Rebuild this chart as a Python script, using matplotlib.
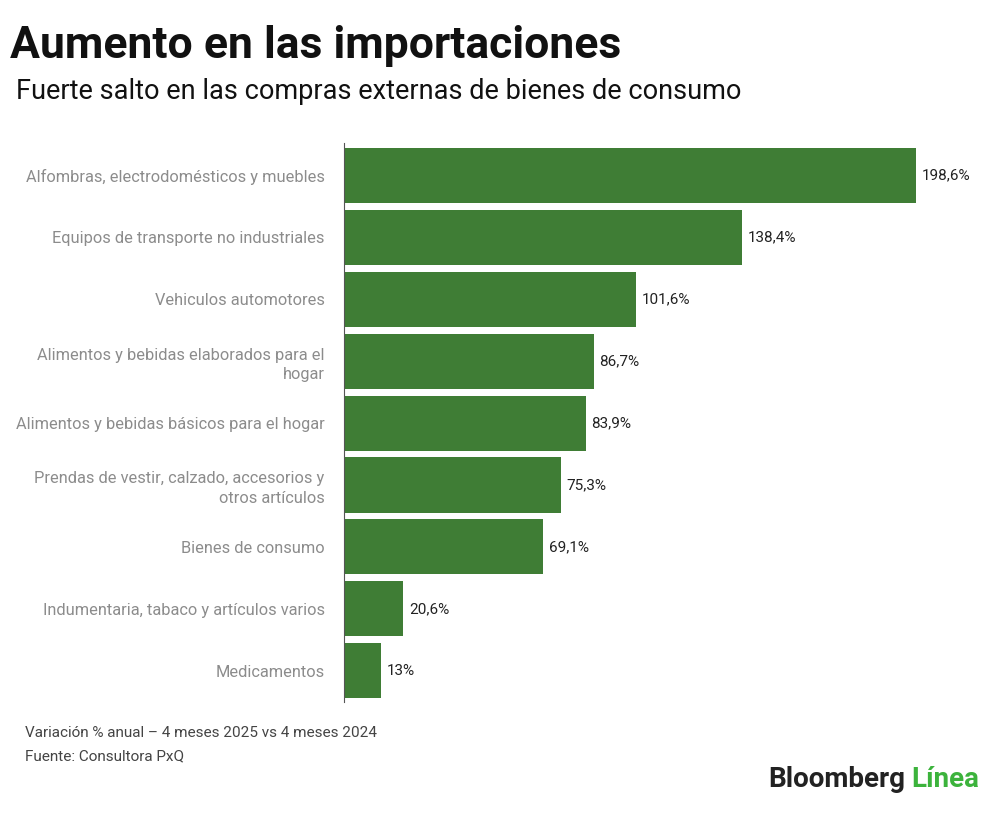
import matplotlib.pyplot as plt

# DATA
categorias = ['Alfombras, electrodomésticos y muebles',
              'Equipos de transporte no industriales',
              'Vehiculos automotores',
              'Alimentos y bebidas elaborados para el\nhogar',
              'Alimentos y bebidas básicos para el hogar',
              'Prendas de vestir, calzado, accesorios y\notros artículos',
              'Bienes de consumo',
              'Indumentaria, tabaco y artículos varios',
              'Medicamentos']
valores = [198.6, 138.4, 101.6, 86.7, 83.9, 75.3, 69.1, 20.6, 13]
etiquetas = ['198,6%', '138,4%', '101,6%', '86,7%', '83,9%', '75,3%', '69,1%', '20,6%', '13%']

plt.rcParams['font.family'] = ['Roboto', 'DejaVu Sans']

fig = plt.figure(figsize=(10, 8.14), dpi=100)
ax = fig.add_axes([0.344, 0.138, 0.616, 0.686])

y = range(len(categorias))
ax.barh(y, valores, height=0.89, color='#3f7d35')
for i, (v, t) in enumerate(zip(valores, etiquetas)):
    ax.text(v + 2, i, t, va='center', ha='left', fontsize=11, color='#222222')

ax.set_ylim(len(categorias) - 0.5, -0.52)
ax.set_xlim(0, 214)
ax.set_yticks(list(y))
ax.set_yticklabels(categorias, fontsize=11.8, color='#8c8c8c', linespacing=1.4)
ax.tick_params(axis='y', length=0, pad=14)
ax.set_xticks([])
for s in ['top', 'right', 'bottom']:
    ax.spines[s].set_visible(False)
ax.spines['left'].set_color('#555555')

fig.text(0.010, 0.944, 'Aumento en las importaciones', fontsize=32, fontweight='bold',
         color='#111111', va='center')
fig.text(0.016, 0.887, 'Fuerte salto en las compras externas de bienes de consumo',
         fontsize=19.5, color='#111111', va='center')
fig.text(0.025, 0.099, 'Variación % anual – 4 meses 2025 vs 4 meses 2024', fontsize=11,
         color='#444444', va='center')
fig.text(0.025, 0.071, 'Fuente: Consultora PxQ', fontsize=11, color='#444444', va='center')
fig.text(0.905, 0.042, 'Bloomberg', fontsize=20, fontweight='bold', color='#222222',
         ha='right', va='center')
fig.text(0.911, 0.042, 'Línea', fontsize=20, fontweight='bold', color='#3cb33c',
         ha='left', va='center')

fig.savefig('out.png', dpi=100, facecolor='white')
